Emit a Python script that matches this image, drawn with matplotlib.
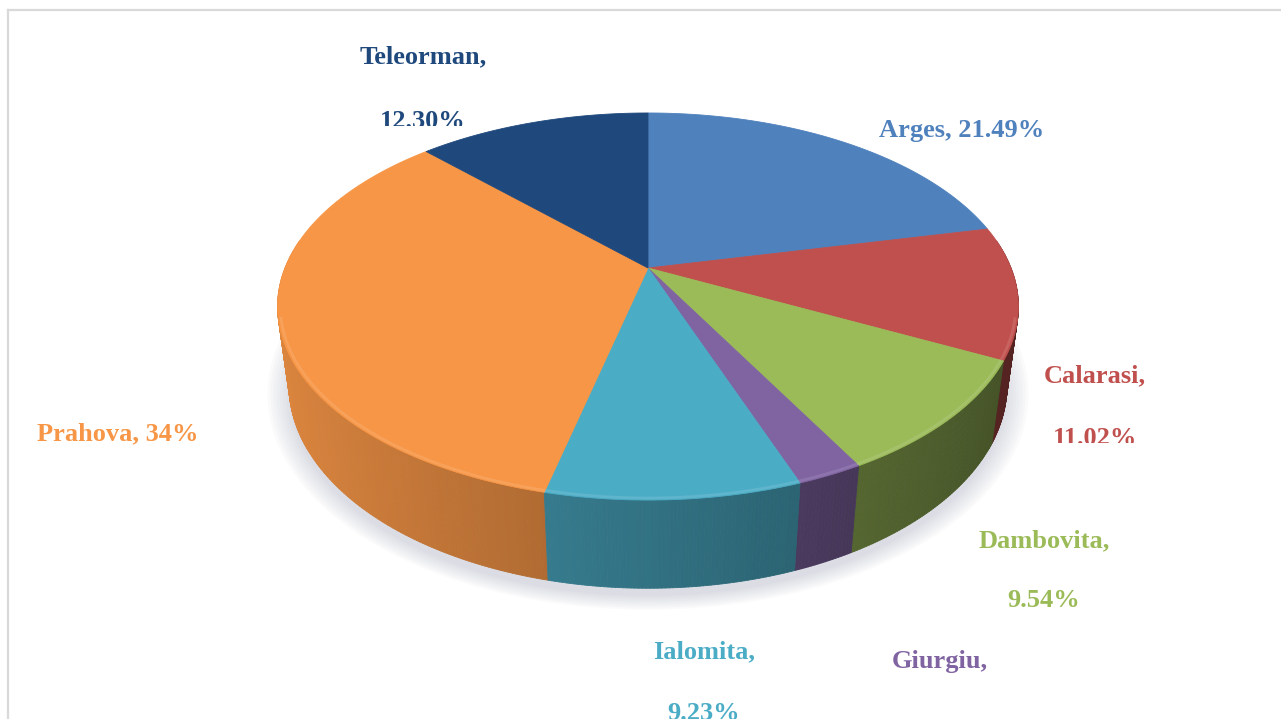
import numpy as np
import matplotlib.pyplot as plt
from matplotlib.patches import Polygon
from matplotlib.collections import PolyCollection
from matplotlib.colors import to_rgb
from matplotlib.transforms import Bbox

# data
counties = ['Arges', 'Calarasi', 'Dambovita', 'Giurgiu', 'Ialomita', 'Prahova', 'Teleorman']
shares = [21.49, 11.02, 9.54, 2.42, 9.23, 34.0, 12.30]
share_labels = ['21.49%', '11.02%', '9.54%', '2.42%', '9.23%', '34%', '12.30%']
colors = ['#4F81BD', '#C0504D', '#9BBB59', '#8064A2', '#4BACC6', '#F79646', '#1F497D']

# label layout: x centre, 1st baseline, 2nd baseline (None = one line), clip y of 2nd line
label_pos = {
    'Arges': (962, 137, None, None),
    'Calarasi': (1095, 382, 445, 443),
    'Dambovita': (1044, 547, 607, None),
    'Giurgiu': (940, 668, 735, 712),
    'Ialomita': (704, 658, 720, None),
    'Prahova': (118, 440, None, None),
    'Teleorman': (423, 63, 128, 126),
}

W, H = 1281, 719
cx, cy = 648, 268
A = 363
phi = np.radians(30.8)
s, c = np.sin(phi), np.cos(phi)
k = 0.2317
D = 1 / k
depth = 0.258


def project(t, r=1.0, h=0.0):
    x = r * np.sin(t)
    y = r * np.cos(t)
    yc = y * s + h * c
    zc = D + y * c - h * s
    return cx + A * D * x / zc, cy - A * D * yc / zc


def shade(col, f):
    return tuple(np.clip(np.array(to_rgb(col)) * f, 0, 1))


def lighten(col, a):
    rgb = np.array(to_rgb(col))
    return tuple(rgb + (1 - rgb) * a)


fig = plt.figure(figsize=(W / 100, H / 100), dpi=100)
ax = fig.add_axes([0, 0, 1, 1])
ax.set_xlim(0, W)
ax.set_ylim(H, 0)
ax.axis('off')

# chart border
ax.plot([8, 8], [H, 10], color='#D9D9D9', lw=1.6)
ax.plot([8, W], [10, 10], color='#D9D9D9', lw=1.6)

edges = 2 * np.pi * np.cumsum([0] + shares) / sum(shares)

# soft shadow under the pie
tt = np.linspace(0, 2 * np.pi, 360)
bx, by = project(tt, 1.0, -depth)
mx, my = bx.mean(), by.mean()
for sc in np.linspace(1.0, 1.06, 8):
    pts = np.column_stack([mx + (bx - mx) * sc, my + (by - my) * sc + 8])
    ax.add_patch(Polygon(pts, closed=True, facecolor='#8a92aa', edgecolor='none', alpha=0.04))

# side walls
quads, qcols, qdepth = [], [], []
for i in range(len(shares)):
    n = max(int(np.degrees(edges[i + 1] - edges[i]) * 2), 2)
    ts = np.linspace(edges[i], edges[i + 1], n + 1)
    for a, b in zip(ts[:-1], ts[1:]):
        m = 0.5 * (a + b)
        if np.cos(m) > 0.15:
            continue
        x1, y1 = project(a)
        x2, y2 = project(b)
        x3, y3 = project(b, 1.0, -depth)
        x4, y4 = project(a, 1.0, -depth)
        quads.append([(x1, y1), (x2, y2), (x3, y3), (x4, y4)])
        f = 0.66 - 0.24 * np.sin(m)
        qcols.append(shade(colors[i], f))
        qdepth.append(np.cos(m))
order = np.argsort(qdepth)[::-1]
rims = PolyCollection([quads[j] for j in order], facecolors=[qcols[j] for j in order],
                      edgecolors=[qcols[j] for j in order], linewidths=0.6)
ax.add_collection(rims)

# top faces
for i in range(len(shares)):
    ts = np.linspace(edges[i], edges[i + 1], 200)
    px, py = project(ts)
    pts = np.vstack([[cx, cy], np.column_stack([px, py])])
    ax.add_patch(Polygon(pts, closed=True, facecolor=colors[i], edgecolor=colors[i], lw=0.6))
    # soft bevel highlight along the front edge
    front = np.cos(ts) < -0.25
    if front.any():
        hx, hy = project(ts[front], 0.993)
        ax.plot(hx, hy, color=lighten(colors[i], 0.2), lw=2, alpha=0.55, solid_capstyle='butt')

# labels
font = dict(fontsize=19, fontweight='bold', family='Liberation Serif')
for i, name in enumerate(counties):
    x, y1, y2, clip_y = label_pos[name]
    if y2 is None:
        ax.text(x, y1, name + ', ' + share_labels[i], ha='center', va='baseline',
                color=colors[i], **font)
        continue
    ax.text(x, y1, name + ',', ha='center', va='baseline', color=colors[i], **font)
    t2 = ax.text(x, y2, share_labels[i], ha='center', va='baseline', color=colors[i], **font)
    if clip_y is not None:
        t2.set_clip_box(Bbox.from_extents(0, H - clip_y, W, H))
        t2.set_clip_on(True)

fig.savefig('out.png', dpi=100)
